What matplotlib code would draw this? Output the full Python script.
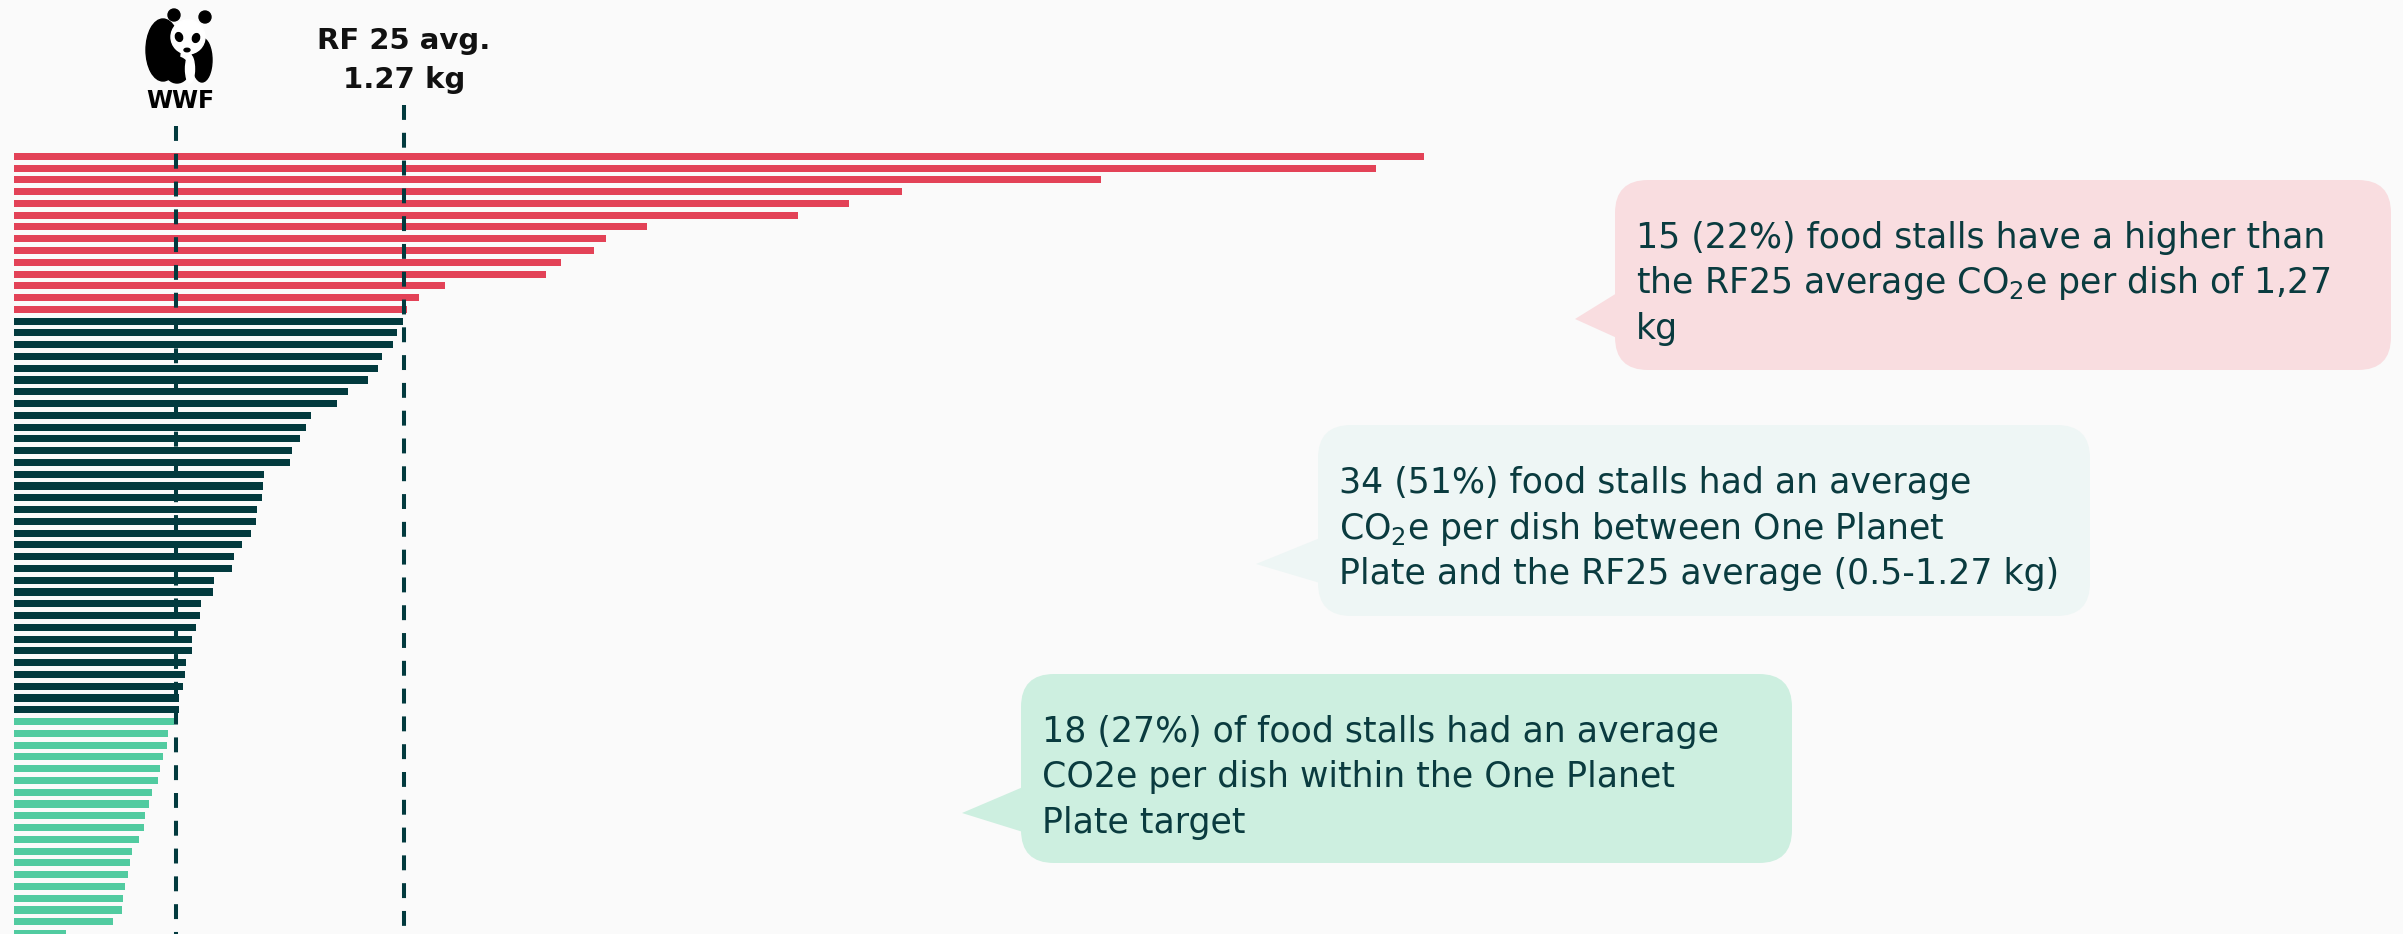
import matplotlib.pyplot as plt
from matplotlib.patches import FancyBboxPatch, Polygon, Ellipse, Circle
import numpy as np

# average kg CO2e per dish, one bar per food stall (sorted high -> low)
above_avg = [4.71, 4.55, 3.62, 2.95, 2.77, 2.60, 2.09, 1.95, 1.91, 1.80,
             1.75, 1.41, 1.32, 1.28]
between = [1.268, 1.248, 1.233, 1.197, 1.181, 1.148, 1.082, 1.044, 0.955, 0.940,
           0.919, 0.891, 0.887, 0.797, 0.796, 0.790, 0.773, 0.771, 0.753, 0.725,
           0.698, 0.689, 0.630, 0.626, 0.587, 0.583, 0.569, 0.556, 0.554, 0.536,
           0.533, 0.526, 0.511, 0.510]
within = [0.494, 0.474, 0.471, 0.457, 0.447, 0.440, 0.420, 0.410, 0.397, 0.393,
          0.376, 0.353, 0.346, 0.339, 0.329, 0.322, 0.319, 0.289, 0.130]

wwf_target = 0.5   # One Planet Plate
rf25_avg = 1.27

red_text = ["15 (22%) food stalls have a higher than",
            "the RF25 average CO$_\\mathregular{2}$e per dish of 1,27",
            "kg"]
teal_text = ["34 (51%) food stalls had an average",
             "CO$_\\mathregular{2}$e per dish between One Planet",
             "Plate and the RF25 average (0.5-1.27 kg)"]
green_text = ["18 (27%) of food stalls had an average",
              "CO2e per dish within the One Planet",
              "Plate target"]

RED = "#E34257"
DARK = "#023A3E"
GREEN = "#51CBA0"
TXT = "#0A3B3F"
BG = "#FAFAFA"

plt.rcParams['font.family'] = ['DejaVu Sans']

fig = plt.figure(figsize=(24.03, 9.34), dpi=100)
fig.patch.set_facecolor(BG)

# main axes: bars + reference lines
ax = fig.add_axes([0, 0, 1, 1])
ax.set_facecolor(BG)
ax.axis("off")
ax.set_xlim(-0.0924, 8.012)
ax.set_ylim(66.04, -13.27)

values = np.array(above_avg + between + within)
colors = [RED] * len(above_avg) + [DARK] * len(between) + [GREEN] * len(within)
y = np.arange(len(values))
base = -0.045
ax.barh(y, values - base, left=base, height=0.6, color=colors, zorder=2)

ax.plot([wwf_target, wwf_target], [-2.57, 67], color=DARK, lw=2.9,
        dashes=(3.7, 3.2), zorder=3)
ax.plot([rf25_avg, rf25_avg], [-4.36, 67], color=DARK, lw=2.9,
        dashes=(3.7, 3.2), zorder=3)

# overlay in pixel units for the labels and callouts
ov = fig.add_axes([0, 0, 1, 1])
ov.set_xlim(0, 2403)
ov.set_ylim(934, 0)
ov.axis("off")
ov.patch.set_alpha(0)

# rough WWF panda
ov.add_patch(Ellipse((163, 50), 34, 62, color="black"))
ov.add_patch(Ellipse((202, 60), 20, 44, color="black"))
ov.add_patch(Ellipse((177, 70), 24, 26, color="black"))
ov.add_patch(Circle((188, 37), 17, color="white"))
ov.add_patch(Ellipse((190, 69), 9, 28, color="white"))
ov.add_patch(Circle((174, 15), 6, color="black"))
ov.add_patch(Circle((205, 17), 6, color="black"))
ov.add_patch(Ellipse((179, 37), 7, 9, angle=-20, color="black"))
ov.add_patch(Ellipse((196, 38), 7, 9, angle=20, color="black"))
ov.add_patch(Ellipse((187, 50), 6, 3.5, color="black"))
ov.text(180, 108, "WWF", ha="center", va="baseline", fontsize=17,
        fontweight="heavy", color="black")

ov.text(404, 49, "RF 25 avg.", ha="center", va="baseline", fontsize=21,
        fontweight="bold", color="#111111")
ov.text(404, 88, "1.27 kg", ha="center", va="baseline", fontsize=21,
        fontweight="bold", color="#111111")


def bubble(x0, x1, top, bottom, tip_x, fill, lines):
    ov.add_patch(FancyBboxPatch((x0, top), x1 - x0, bottom - top,
                                boxstyle="round,pad=0,rounding_size=33",
                                fc=fill, ec="none", zorder=1))
    ov.add_patch(Polygon([(x0 + 2, top + 113), (tip_x, top + 139),
                          (x0 + 2, top + 158)], closed=True,
                         fc=fill, ec="none", zorder=1))
    for i, line in enumerate(lines):
        ov.text(x0 + 21, top + 68 + i * 45.5, line, ha="left", va="baseline",
                fontsize=25, color=TXT, zorder=2)


bubble(1615, 2391, 180, 370, 1575, "#F9DDE0", red_text)
bubble(1318, 2090, 425, 616, 1256, "#EEF6F5", teal_text)
bubble(1021, 1792, 674, 863, 962, "#CDEFE0", green_text)

fig.savefig("out.png", dpi=100, facecolor=BG)
